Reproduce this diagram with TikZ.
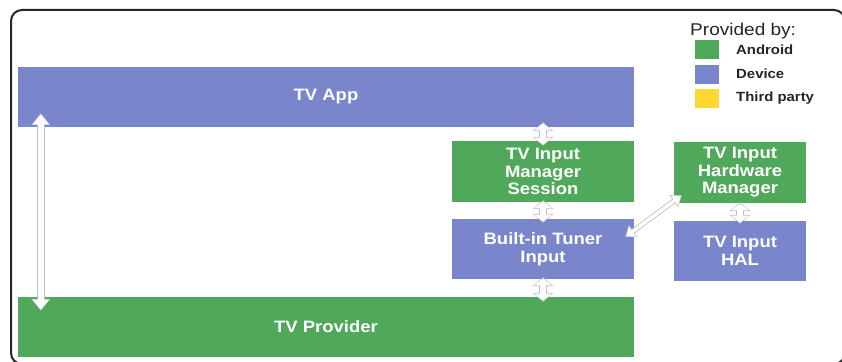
\documentclass[tikz,border=0pt]{standalone}
\usepackage{fontspec}
\setmainfont{Liberation Sans}
\newfontfamily\wfont[FakeStretch=1.12]{Liberation Sans}
\usetikzlibrary{arrows.meta,calc}
\definecolor{devblue}{HTML}{7986CB}
\definecolor{andgreen}{HTML}{50A95B}
\definecolor{thirdyellow}{HTML}{FDD835}
\definecolor{arrowgrey}{HTML}{BDBDBD}
\definecolor{framegrey}{HTML}{262626}
\newcommand\hollowarrow[5]{%
  \pgfmathsetmacro\hoS{#3+1.6}\pgfmathsetmacro\hoW{#4+2.6}\pgfmathsetmacro\hoL{#5+2}%
  \draw[arrowgrey, line width=\hoS pt,
    {Triangle[width=\hoW pt,length=\hoL pt]}-{Triangle[width=\hoW pt,length=\hoL pt]}] #1 -- #2;
  \draw[white, line width=#3pt, shorten <=1.2pt, shorten >=1.2pt,
    {Triangle[width=#4pt,length=#5pt]}-{Triangle[width=#4pt,length=#5pt]}] #1 -- #2;}
\tikzset{
  box/.style={draw=none, inner sep=0pt, text=white, align=center,
    font=\wfont\bfseries\fontsize{16.5}{17.5}\selectfont},
  bluebox/.style={box, fill=devblue},
  greenbox/.style={box, fill=andgreen},
  swatch/.style={draw=none, minimum width=24pt, minimum height=19pt, inner sep=0pt},
  legtext/.style={anchor=west, inner sep=0pt, text=black!85,
    font=\wfont\bfseries\fontsize{13.3}{14}\selectfont},
}
\begin{document}
\begin{tikzpicture}[x=1pt,y=-1pt]
\useasboundingbox (0,0) rectangle (842,361);
\fill[white] (0,0) rectangle (842,361);
\clip (0,0) rectangle (842,361);
\draw[framegrey, line width=2pt, rounded corners=11pt] (11,10) rectangle (845,364);

% boxes
\node[bluebox, minimum width=616pt, minimum height=60pt] (tvapp) at (326,97) {TV App};
\node[greenbox, minimum width=616pt, minimum height=60pt] (prov) at (326,327) {TV Provider};
\node[greenbox, minimum width=182pt, minimum height=61pt] (tims) at (543,171.5) {TV Input\\Manager\\Session};
\node[bluebox, minimum width=182pt, minimum height=60pt] (bti) at (543,249) {Built-in Tuner\\Input};
\node[greenbox, minimum width=132pt, minimum height=61pt] (thm) at (740,172.5) {TV Input\\Hardware\\Manager};
\node[bluebox, minimum width=132pt, minimum height=60pt] (hal) at (740,251) {TV Input\\HAL};

% legend
\node[anchor=west, inner sep=0pt, text=black!85, font=\wfont\fontsize{17}{18}\selectfont] (legtitle) at (690,31) {Provided by:};
\node[swatch, fill=andgreen] (swa) at (707,49.5) {};
\node[swatch, fill=devblue] (swd) at (707,74) {};
\node[swatch, fill=thirdyellow] (swt) at (707,98.5) {};
\node[legtext] (la) at (736,49.5) {Android};
\node[legtext] (ld) at (736,74) {Device};
\node[legtext] (lt) at (736,98.5) {Third party};

% arrows
\hollowarrow{($(tvapp.south west)+(23,-14)$)}{($(prov.north west)+(23,14)$)}{6}{16}{10}
\hollowarrow{($(tims.north |- tvapp.south)+(0,-5)$)}{($(tims.north)+(0,5)$)}{6}{18}{7}
\hollowarrow{($(tims.south)+(0,-2)$)}{($(bti.north)+(0,4)$)}{6}{18}{7}
\hollowarrow{($(bti.south)+(0,-2)$)}{($(prov.north -| bti.south)+(0,5)$)}{6}{18}{7}
\hollowarrow{($(thm.south)+(0,-1)$)}{($(hal.north)+(0,3)$)}{6}{18}{7}
\hollowarrow{($(bti.east)+(-9,-12)$)}{($(thm.south west)+(8,-8)$)}{3.5}{12}{8}
\end{tikzpicture}
\end{document}
